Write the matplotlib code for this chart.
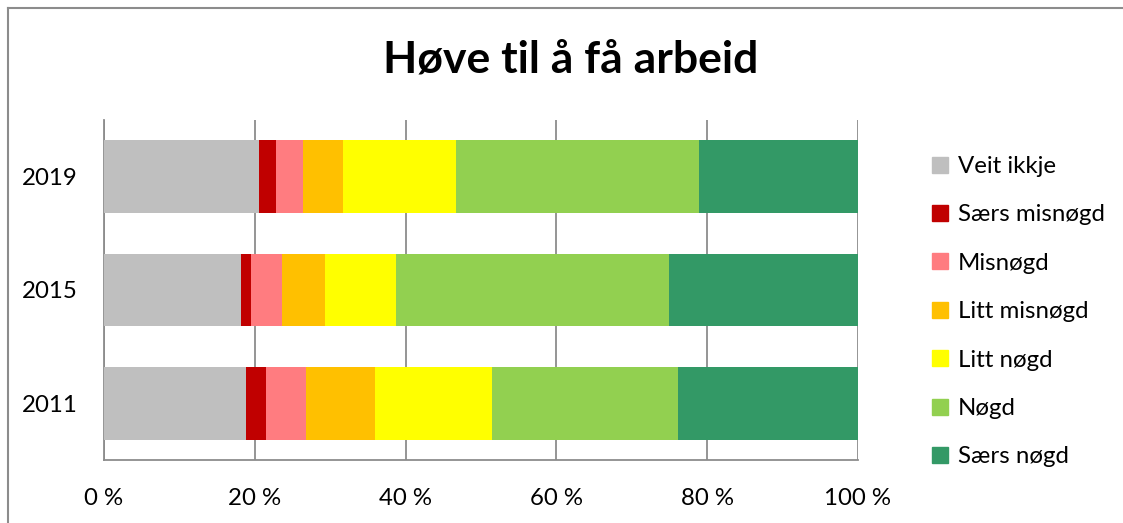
import matplotlib
matplotlib.use("Agg")
import matplotlib.pyplot as plt
from matplotlib.lines import Line2D
import numpy as np

years = ["2011", "2015", "2019"]
categories = ["Veit ikkje", "Særs misnøgd", "Misnøgd", "Litt misnøgd", "Litt nøgd", "Nøgd", "Særs nøgd"]
veit_ikkje   = [18.8, 18.2, 20.6]
saers_misnogd = [2.7, 1.3, 2.2]
misnogd      = [5.3, 4.1, 3.6]
litt_misnogd = [9.1, 5.7, 5.3]
litt_nogd    = [15.6, 9.4, 15.0]
nogd         = [24.6, 36.2, 32.2]
saers_nogd   = [23.9, 25.1, 21.1]
series = [veit_ikkje, saers_misnogd, misnogd, litt_misnogd, litt_nogd, nogd, saers_nogd]
colors = ["#BFBFBF", "#C00000", "#FF7C80", "#FFC000", "#FFFF00", "#92D050", "#339966"]
xticks = [0, 20, 40, 60, 80, 100]
xticklabels = ["0 %", "20 %", "40 %", "60 %", "80 %", "100 %"]

plt.rcParams['font.family'] = ['Lato', 'DejaVu Sans']

fig = plt.figure(figsize=(11.23, 5.23), dpi=100)
ax = fig.add_axes([104/1123, 1-460/523, (858-104)/1123, (460-120)/523])

y = np.arange(len(years))
left = np.zeros(len(years))
for vals, col, lab in zip(series, colors, categories):
    v = np.array(vals)
    ax.barh(y, v, left=left, height=0.643, color=col, label=lab, zorder=3)
    left += v

ax.set_xlim(0, 100)
ax.set_ylim(-0.5, 2.5)
ax.set_yticks(y)
ax.set_yticklabels(years, fontsize=17.3)
ax.set_xticks(xticks)
ax.set_xticklabels(xticklabels, fontsize=17.3)
ax.tick_params(axis='both', length=0)
ax.tick_params(axis='x', pad=20.5)
ax.tick_params(axis='y', pad=19)
ax.grid(axis='x', color='#8C8C8C', linewidth=1.3, zorder=0)
for s in ['top', 'right']:
    ax.spines[s].set_visible(False)
for s in ['left', 'bottom']:
    ax.spines[s].set_color('#8C8C8C')
    ax.spines[s].set_linewidth(1.3)

handles = [Line2D([0], [0], marker='s', linestyle='none', markersize=11,
                  markerfacecolor=c, markeredgecolor=c) for c in colors]
leg = fig.legend(handles, categories, loc='upper left', bbox_to_anchor=(930/1123, 1-156/523),
                 frameon=False, fontsize=17.3, labelspacing=1.14, handlelength=0.8,
                 handletextpad=0.35, borderaxespad=0, borderpad=0)

fig.text(571/1123, 1-72/523, "Høve til å få arbeid", ha='center', va='baseline',
         fontsize=32, fontweight='bold')

# chart frame
fig.add_artist(Line2D([8/1123, 8/1123], [0, 1-8/523], transform=fig.transFigure,
                      color='#8C8C8C', linewidth=1.5))
fig.add_artist(Line2D([8/1123, 1], [1-8/523, 1-8/523], transform=fig.transFigure,
                      color='#8C8C8C', linewidth=1.5))

fig.savefig("out.png", dpi=100)
